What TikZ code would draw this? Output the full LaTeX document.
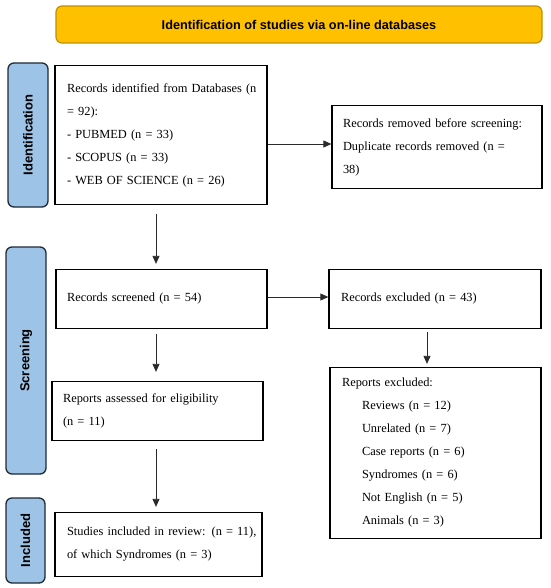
\documentclass[tikz,border=0pt]{standalone}
\usepackage{fontspec}
\setmainfont{Liberation Serif}
\newfontfamily\labfont{Liberation Sans}
\usetikzlibrary{arrows.meta,calc}
\definecolor{bannerfill}{HTML}{FFC000}
\definecolor{bannerline}{HTML}{BF9000}
\definecolor{labfill}{HTML}{9DC3E6}
\definecolor{labline}{HTML}{1F2A36}
\definecolor{arrcol}{HTML}{2A2A2A}
\newcommand{\tline}[1]{\mbox{#1}}
\begin{document}
\begin{tikzpicture}[x=1pt,y=-1pt,
  box/.style={draw=black, line width=1.3pt, fill=white, align=left, inner ysep=0pt,
    font=\fontsize{12.4}{23}\selectfont},
  lab/.style={draw=labline, fill=labfill, line width=1.3pt, rounded corners=6pt,
    inner sep=0pt, rotate=90, font=\labfont\bfseries\fontsize{13}{15}\selectfont},
  banner/.style={draw=bannerline, fill=bannerfill, line width=1.2pt, rounded corners=6pt,
    inner sep=0pt, font=\labfont\bfseries\fontsize{12.7}{15}\selectfont},
  arr/.style={draw=arrcol, line width=0.8pt, -{Triangle[length=8pt,width=7pt]}},
]
\useasboundingbox (0,0) rectangle (550,588);

% banner
\node[banner, minimum width=486pt, minimum height=37pt] (ban) at (299,24.5)
  {Identification of studies via on-line databases};

% side labels
\node[lab, minimum width=144pt, minimum height=40pt] (lid) at (28,135) {Identification};
\node[lab, minimum width=227pt, minimum height=40pt] (lsc) at (26,360.5) {Screening};
\node[lab, minimum width=85pt, minimum height=39pt] (lin) at (25.5,540.5) {Included};

% boxes
\node[box, minimum width=212pt, minimum height=139pt, text width=188pt, inner xsep=12pt]
  (b1) at (161,135)
  {\tline{Records identified from Databases (n}\\
   \tline{= 92):}\\
   \tline{- PUBMED (n = 33)}\\
   \tline{- SCOPUS (n = 33)}\\
   \tline{- WEB OF SCIENCE (n = 26)}};

\node[box, minimum width=210pt, minimum height=83pt, text width=188pt, inner xsep=11pt]
  (b2) at (437,147)
  {\tline{Records removed before screening:}\\
   \tline{Duplicate records removed (n =}\\
   \tline{38)}};

\node[box, minimum width=211pt, minimum height=59pt, text width=189pt, inner xsep=11pt]
  (b3) at (161.5,299)
  {\tline{Records screened (n = 54)}};

\node[box, minimum width=212pt, minimum height=59pt, text width=188pt, inner xsep=12pt]
  (b4) at (435,299)
  {\tline{Records excluded (n = 43)}};

\node[box, minimum width=211pt, minimum height=171pt, text width=187pt, inner xsep=12pt]
  (b5) at (435.5,453)
  {\tline{Reports excluded:}\\
   \tline{\hspace*{20pt}Reviews (n = 12)}\\
   \tline{\hspace*{20pt}Unrelated (n = 7)}\\
   \tline{\hspace*{20pt}Case reports (n = 6)}\\
   \tline{\hspace*{20pt}Syndromes (n = 6)}\\
   \tline{\hspace*{20pt}Not English (n = 5)}\\
   \tline{\hspace*{20pt}Animals (n = 3)}};

\node[box, minimum width=211pt, minimum height=59pt, text width=189pt, inner xsep=11pt]
  (b6) at (157.5,411)
  {\tline{Reports assessed for eligibility}\\
   \tline{(n = 11)}};

\node[box, minimum width=207pt, minimum height=64pt, text width=183pt, inner xsep=12pt]
  (b7) at (158.5,544.5)
  {\tline{Studies included in review: (n = 11),}\\
   \tline{of which Syndromes (n = 3)}};

% helper coordinates
\coordinate (colA) at (156,0);
\coordinate (colB) at (427,0);
\coordinate (rowA) at (0,144);
\coordinate (rowB) at (0,297);

% connectors
\draw[arr] (b1.east |- rowA) -- (b2.west |- rowA);
\draw[arr, shorten <=9pt, shorten >=5pt] (b1.south -| colA) -- (b3.north -| colA);
\draw[arr] (b3.east |- rowB) -- (b4.west |- rowB);
\draw[arr, shorten <=3pt, shorten >=3pt] (b4.south -| colB) -- (b5.north -| colB);
\draw[arr, shorten <=5pt, shorten >=9pt] (b3.south -| colA) -- (b6.north -| colA);
\draw[arr, shorten <=8pt, shorten >=5pt] (b6.south -| colA) -- (b7.north -| colA);
\end{tikzpicture}
\end{document}
